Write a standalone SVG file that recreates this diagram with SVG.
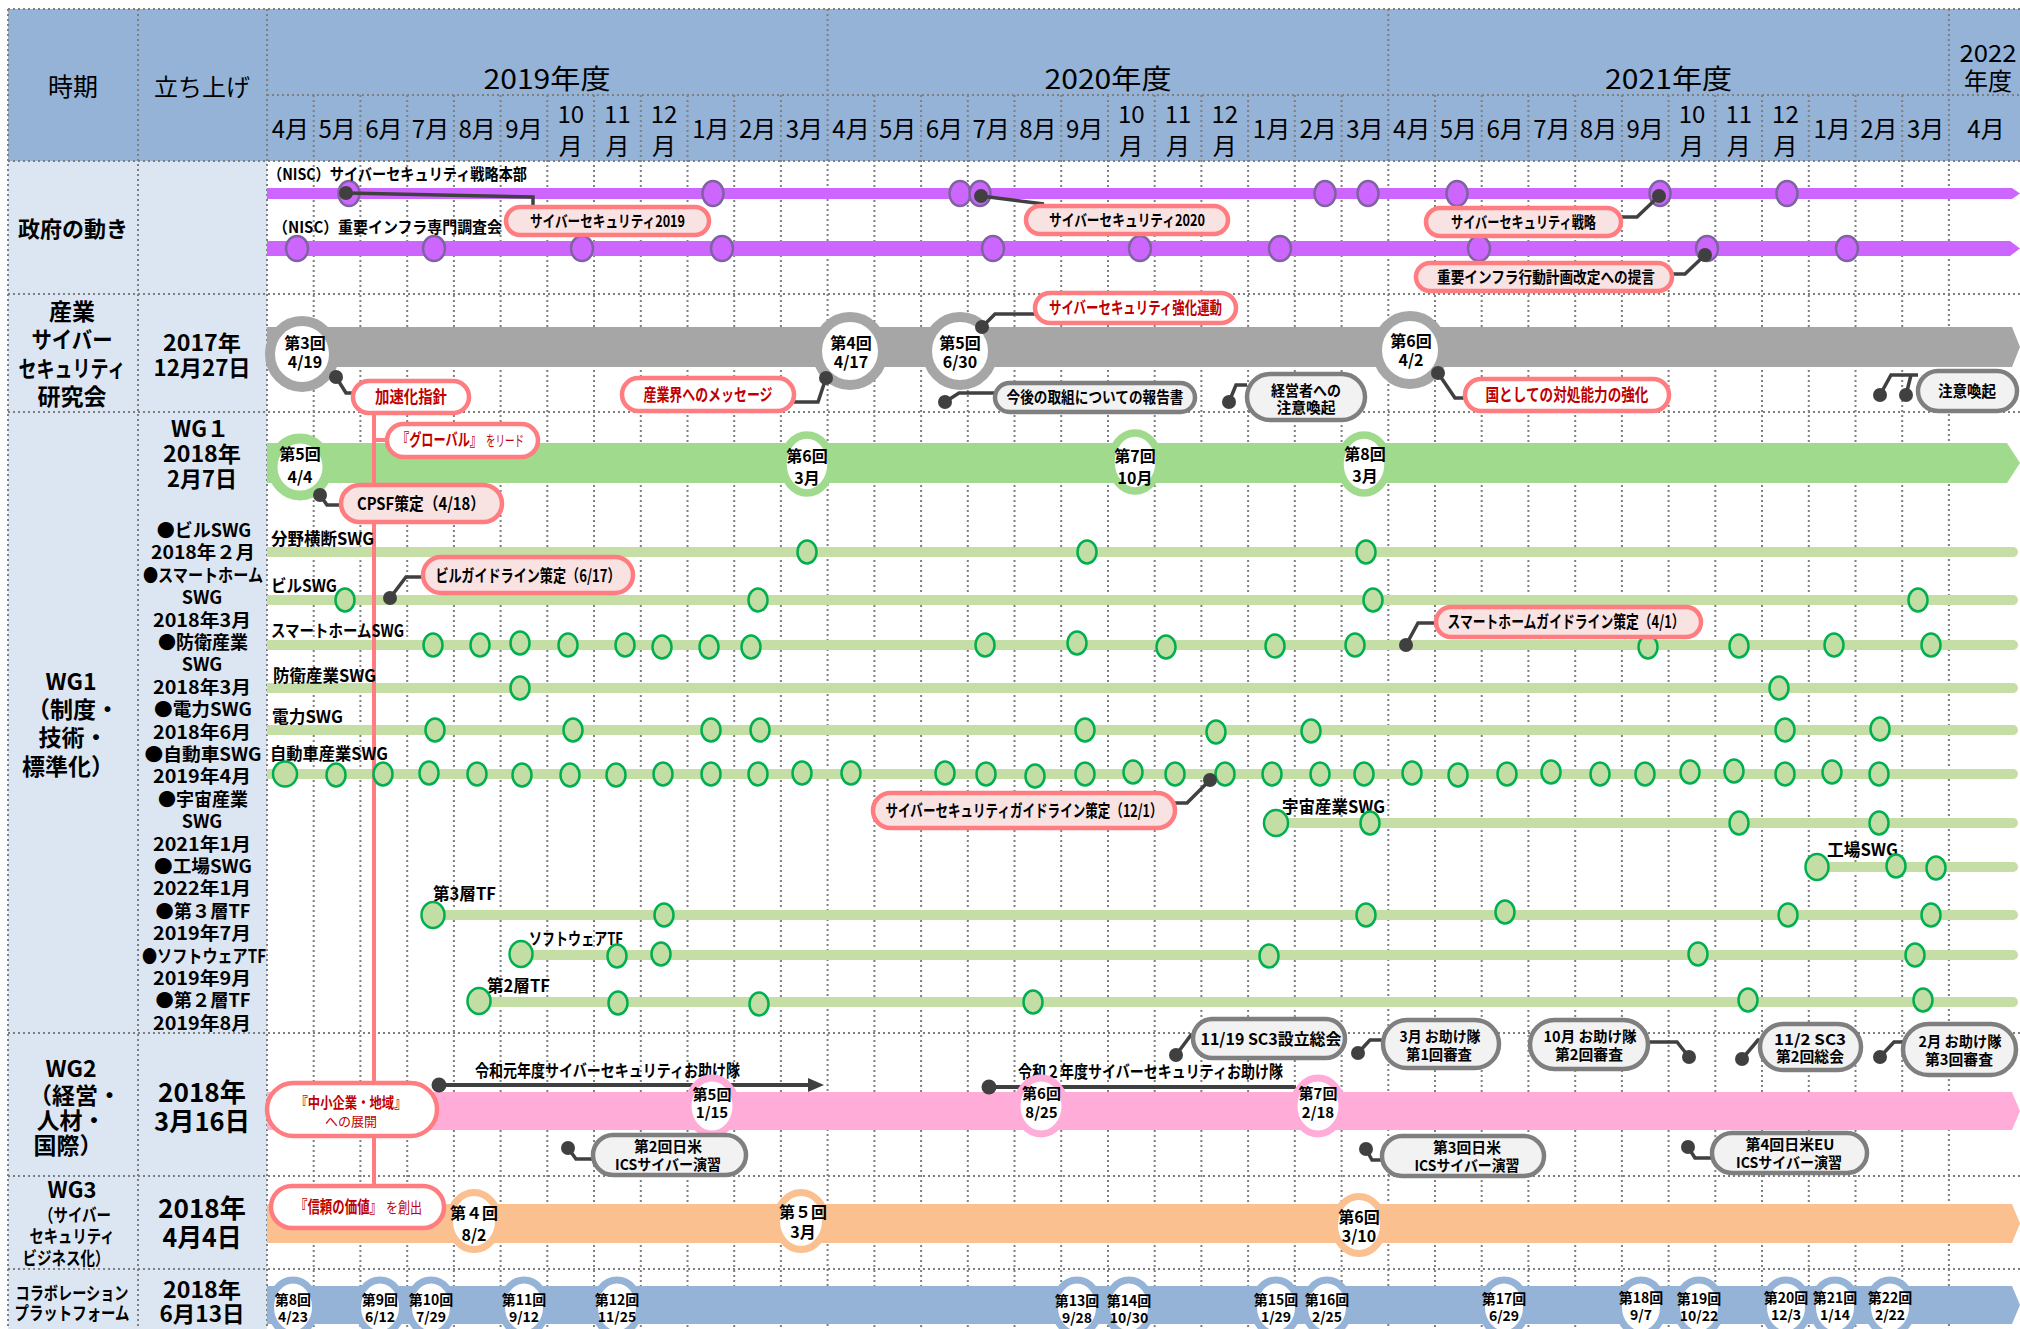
<svg xmlns="http://www.w3.org/2000/svg" width="2020" height="1329" viewBox="0 0 2020 1329">
<defs><style>
text{font-family:"Noto Sans CJK JP","Noto Sans CJK SC",sans-serif;fill:#000}
.b{font-weight:700}
.m{text-anchor:middle}
.hy{font-size:27px;text-anchor:middle}
.hm{font-size:24px;text-anchor:middle}
.lab{font-size:22px;font-weight:700;text-anchor:middle}
.lst{font-size:18px;font-weight:700;text-anchor:middle}
.cl{font-size:16px;font-weight:700;text-anchor:middle}
.c2{font-size:15px;font-weight:700;text-anchor:middle}
.sw{font-size:17px;font-weight:700}
.rt{font-size:16px;font-weight:700;text-anchor:middle}
.rs{font-size:14px;font-weight:700;text-anchor:middle}
.red{fill:#C00000}
.grid{fill:none;stroke:#7F7F7F;stroke-width:2;stroke-dasharray:2 3}
.pd{fill:#CC66FF;stroke:#7F63A1;stroke-width:2.5}
.gd{fill:#C3DEA4;stroke:#00B050;stroke-width:2.5}
.swl{fill:#C4DEA5}
.dot{fill:#404040}
.cn{fill:none;stroke:#404040;stroke-width:3.5}
.cp{fill:#F9E2E2;stroke:#FF7C80;stroke-width:4.5}
.cw{fill:#FFFFFF;stroke:#FF7C80;stroke-width:4.5}
.cg{fill:#F2F2F2;stroke:#7F7F7F;stroke-width:4.5}
.rg{fill:#fff;stroke:#A6A6A6;stroke-width:10}
.rgr{fill:#fff;stroke:#A0DA8D;stroke-width:7.5}
.rp{fill:#fff;stroke:#FFACD9;stroke-width:7}
.ro{fill:#fff;stroke:#FAC090;stroke-width:7}
.rb{fill:#fff;stroke:#95B3D7;stroke-width:7}
</style></defs>

<g id="backgrounds">
<rect x="0" y="0" width="2020" height="1329" fill="#FFFFFF"/>
<rect x="8" y="9" width="2012" height="152" fill="#95B3D7"/>
<rect x="8" y="161" width="259" height="1168" fill="#DCE6F2"/>
</g>

<g id="grid">
<path class="grid" d="M8,9V1329M138,9V1329M267,9V1329M827.6,9V1329M1388.3,9V1329M1948.9,9V1329
M313.7,95V1329M360.4,95V1329M407.2,95V1329M453.9,95V1329M500.6,95V1329M547.3,95V1329M594,95V1329M640.8,95V1329M687.5,95V1329M734.2,95V1329M780.9,95V1329
M874.4,95V1329M921.1,95V1329M967.8,95V1329M1014.5,95V1329M1061.2,95V1329M1108,95V1329M1154.7,95V1329M1201.4,95V1329M1248.1,95V1329M1294.8,95V1329M1341.6,95V1329
M1435,95V1329M1481.7,95V1329M1528.4,95V1329M1575.2,95V1329M1621.9,95V1329M1668.6,95V1329M1715.3,95V1329M1762,95V1329M1808.8,95V1329M1855.5,95V1329M1902.2,95V1329
M8,9H2020M267,95H2020M8,161H2020M8,294H2020M8,412H2020M8,1033H2020M8,1176H2020M8,1269H2020"/>
</g>

<g id="header">
<text x="73" y="96" class="hm" style="font-size:25px">時期</text>
<text x="202" y="96" class="hm">立ち上げ</text>
<text x="547" y="89" class="hy" textLength="127" lengthAdjust="spacingAndGlyphs">2019年度</text>
<text x="1108" y="89" class="hy" textLength="127" lengthAdjust="spacingAndGlyphs">2020年度</text>
<text x="1668.6" y="89" class="hy" textLength="127" lengthAdjust="spacingAndGlyphs">2021年度</text>
<text x="1988" y="62" class="hm" textLength="57" lengthAdjust="spacingAndGlyphs">2022</text>
<text x="1988" y="90" class="hm">年度</text>
<text x="290.4" y="138" class="hm">4月</text>
<text x="337.1" y="138" class="hm">5月</text>
<text x="383.8" y="138" class="hm">6月</text>
<text x="430.5" y="138" class="hm">7月</text>
<text x="477.2" y="138" class="hm">8月</text>
<text x="524" y="138" class="hm">9月</text>
<text x="570.7" y="123" class="hm">10</text><text x="570.7" y="155" class="hm">月</text>
<text x="617.4" y="123" class="hm">11</text><text x="617.4" y="155" class="hm">月</text>
<text x="664.1" y="123" class="hm">12</text><text x="664.1" y="155" class="hm">月</text>
<text x="710.8" y="138" class="hm">1月</text>
<text x="757.6" y="138" class="hm">2月</text>
<text x="804.3" y="138" class="hm">3月</text>
<text x="851" y="138" class="hm">4月</text>
<text x="897.7" y="138" class="hm">5月</text>
<text x="944.4" y="138" class="hm">6月</text>
<text x="991.2" y="138" class="hm">7月</text>
<text x="1037.9" y="138" class="hm">8月</text>
<text x="1084.6" y="138" class="hm">9月</text>
<text x="1131.3" y="123" class="hm">10</text><text x="1131.3" y="155" class="hm">月</text>
<text x="1178" y="123" class="hm">11</text><text x="1178" y="155" class="hm">月</text>
<text x="1224.8" y="123" class="hm">12</text><text x="1224.8" y="155" class="hm">月</text>
<text x="1271.5" y="138" class="hm">1月</text>
<text x="1318.2" y="138" class="hm">2月</text>
<text x="1364.9" y="138" class="hm">3月</text>
<text x="1411.6" y="138" class="hm">4月</text>
<text x="1458.4" y="138" class="hm">5月</text>
<text x="1505.1" y="138" class="hm">6月</text>
<text x="1551.8" y="138" class="hm">7月</text>
<text x="1598.5" y="138" class="hm">8月</text>
<text x="1645.2" y="138" class="hm">9月</text>
<text x="1692" y="123" class="hm">10</text><text x="1692" y="155" class="hm">月</text>
<text x="1738.7" y="123" class="hm">11</text><text x="1738.7" y="155" class="hm">月</text>
<text x="1785.4" y="123" class="hm">12</text><text x="1785.4" y="155" class="hm">月</text>
<text x="1832.1" y="138" class="hm">1月</text>
<text x="1878.8" y="138" class="hm">2月</text>
<text x="1925.6" y="138" class="hm">3月</text>
<text x="1986" y="138" class="hm">4月</text>
</g>

<g id="row-labels">
<text x="73" y="237" class="lab" textLength="110" lengthAdjust="spacingAndGlyphs">政府の動き</text>
<text x="72" y="320" class="lab" style="font-size:23px">産業</text>
<text x="72" y="348" class="lab" style="font-size:23px" textLength="81" lengthAdjust="spacingAndGlyphs">サイバー</text>
<text x="72" y="377" class="lab" style="font-size:23px" textLength="107" lengthAdjust="spacingAndGlyphs">セキュリティ</text>
<text x="72" y="405" class="lab" style="font-size:23px">研究会</text>
<text x="202" y="351" class="lab" textLength="78" lengthAdjust="spacingAndGlyphs">2017年</text>
<text x="202" y="376" class="lab" textLength="97" lengthAdjust="spacingAndGlyphs">12月27日</text>

<text x="71" y="690" class="lab" style="font-size:23px">WG1</text>
<text x="73" y="718" class="lab" style="font-size:23px">（制度・</text>
<text x="73" y="746" class="lab" style="font-size:23px">技術・</text>
<text x="68" y="775" class="lab" style="font-size:23px">標準化）</text>
<text x="200" y="437" class="lab">WG１</text>
<text x="202" y="462" class="lab" textLength="78" lengthAdjust="spacingAndGlyphs">2018年</text>
<text x="202" y="487" class="lab" textLength="70" lengthAdjust="spacingAndGlyphs">2月7日</text>
<text x="204" y="537" class="lst">●ビルSWG</text>
<text x="203" y="559" class="lst" textLength="104" lengthAdjust="spacingAndGlyphs">2018年２月</text>
<text x="203" y="582" class="lst" textLength="120" lengthAdjust="spacingAndGlyphs">●スマートホーム</text>
<text x="202" y="604" class="lst">SWG</text>
<text x="202" y="627" class="lst" textLength="98" lengthAdjust="spacingAndGlyphs">2018年3月</text>
<text x="203" y="649" class="lst" textLength="90" lengthAdjust="spacingAndGlyphs">●防衛産業</text>
<text x="202" y="671" class="lst">SWG</text>
<text x="202" y="694" class="lst" textLength="98" lengthAdjust="spacingAndGlyphs">2018年3月</text>
<text x="203" y="716" class="lst" textLength="98" lengthAdjust="spacingAndGlyphs">●電力SWG</text>
<text x="202" y="739" class="lst" textLength="98" lengthAdjust="spacingAndGlyphs">2018年6月</text>
<text x="203" y="761" class="lst" textLength="117" lengthAdjust="spacingAndGlyphs">●自動車SWG</text>
<text x="202" y="783" class="lst" textLength="98" lengthAdjust="spacingAndGlyphs">2019年4月</text>
<text x="203" y="806" class="lst" textLength="90" lengthAdjust="spacingAndGlyphs">●宇宙産業</text>
<text x="202" y="828" class="lst">SWG</text>
<text x="202" y="851" class="lst" textLength="98" lengthAdjust="spacingAndGlyphs">2021年1月</text>
<text x="203" y="873" class="lst" textLength="98" lengthAdjust="spacingAndGlyphs">●工場SWG</text>
<text x="202" y="895" class="lst" textLength="98" lengthAdjust="spacingAndGlyphs">2022年1月</text>
<text x="203" y="918" class="lst" textLength="95" lengthAdjust="spacingAndGlyphs">●第３層TF</text>
<text x="202" y="940" class="lst" textLength="98" lengthAdjust="spacingAndGlyphs">2019年7月</text>
<text x="204" y="963" class="lst" textLength="124" lengthAdjust="spacingAndGlyphs">●ソフトウェアTF</text>
<text x="202" y="985" class="lst" textLength="98" lengthAdjust="spacingAndGlyphs">2019年9月</text>
<text x="203" y="1007" class="lst" textLength="95" lengthAdjust="spacingAndGlyphs">●第２層TF</text>
<text x="202" y="1030" class="lst" textLength="98" lengthAdjust="spacingAndGlyphs">2019年8月</text>

<text x="71" y="1077" class="lab" style="font-size:23px">WG2</text>
<text x="75" y="1104" class="lab" style="font-size:23px">（経営・</text>
<text x="71" y="1129" class="lab" style="font-size:23px">人材・</text>
<text x="68" y="1154" class="lab" style="font-size:23px">国際）</text>
<text x="202" y="1102" class="lab" style="font-size:26px" textLength="88" lengthAdjust="spacingAndGlyphs">2018年</text>
<text x="202" y="1131" class="lab" style="font-size:26px" textLength="96" lengthAdjust="spacingAndGlyphs">3月16日</text>

<text x="72" y="1198" class="lab">WG3</text>
<text x="75" y="1222" class="lab" style="font-size:18px" textLength="72" lengthAdjust="spacingAndGlyphs">（サイバー</text>
<text x="72" y="1243" class="lab" style="font-size:18px" textLength="85" lengthAdjust="spacingAndGlyphs">セキュリティ</text>
<text x="66" y="1265" class="lab" style="font-size:18px" textLength="87" lengthAdjust="spacingAndGlyphs">ビジネス化）</text>
<text x="202" y="1218" class="lab" style="font-size:26px" textLength="88" lengthAdjust="spacingAndGlyphs">2018年</text>
<text x="202" y="1247" class="lab" style="font-size:26px" textLength="79" lengthAdjust="spacingAndGlyphs">4月4日</text>

<text x="72" y="1300" class="lab" style="font-size:18px" textLength="113" lengthAdjust="spacingAndGlyphs">コラボレーション</text>
<text x="72" y="1320" class="lab" style="font-size:18px" textLength="115" lengthAdjust="spacingAndGlyphs">プラットフォーム</text>
<text x="202" y="1298" class="lab" textLength="78" lengthAdjust="spacingAndGlyphs">2018年</text>
<text x="202" y="1322" class="lab" textLength="85" lengthAdjust="spacingAndGlyphs">6月13日</text>
</g>

<g id="bands">
<path d="M267,188H2012L2020,193.5L2012,199H267Z" fill="#CC66FF"/>
<path d="M267,241H2010L2020,248.5L2010,256H267Z" fill="#CC66FF"/>
<path d="M267,327H2012L2020,347L2012,367H267Z" fill="#A6A6A6"/>
<path d="M267,443H2007L2020,463L2007,483H267Z" fill="#A0DA8D"/>
<path class="swl" d="M267,547H2013A5,5 0 0 1 2013,557H267Z"/>
<path class="swl" d="M267,595H2013A5,5 0 0 1 2013,605H267Z"/>
<path class="swl" d="M267,640H2013A5,5 0 0 1 2013,650H267Z"/>
<path class="swl" d="M267,683H2013A5,5 0 0 1 2013,693H267Z"/>
<path class="swl" d="M267,725H2013A5,5 0 0 1 2013,735H267Z"/>
<path class="swl" d="M267,769H2013A5,5 0 0 1 2013,779H267Z"/>
<path class="swl" d="M1276,818H2013A5,5 0 0 1 2013,828H1276Z"/>
<path class="swl" d="M1817,862H2013A5,5 0 0 1 2013,872H1817Z"/>
<path class="swl" d="M433,910H2013A5,5 0 0 1 2013,920H433Z"/>
<path class="swl" d="M521,950H2013A5,5 0 0 1 2013,960H521Z"/>
<path class="swl" d="M479,997H2013A5,5 0 0 1 2013,1007H479Z"/>
<path d="M267,1092H2012L2020,1111L2012,1130H267Z" fill="#FFACD9"/>
<path d="M267,1204H2012L2020,1223.5L2012,1243H267Z" fill="#FAC090"/>
<path d="M267,1286H2012L2020,1305L2012,1324H267Z" fill="#95B3D7"/>
<path d="M374,413V1186" stroke="#FF7C80" stroke-width="4" fill="none"/>
<path d="M374,440H387" stroke="#FF7C80" stroke-width="4" fill="none"/>
</g>

<g id="gov-meetings">
<ellipse class="pd" cx="349" cy="193.5" rx="10.5" ry="12.5"/>
<ellipse class="pd" cx="713" cy="193.5" rx="10.5" ry="12.5"/>
<ellipse class="pd" cx="960" cy="193.5" rx="10.5" ry="12.5"/>
<ellipse class="pd" cx="980" cy="193.5" rx="10.5" ry="12.5"/>
<ellipse class="pd" cx="1325" cy="193.5" rx="10.5" ry="12.5"/>
<ellipse class="pd" cx="1368" cy="193.5" rx="10.5" ry="12.5"/>
<ellipse class="pd" cx="1457" cy="193.5" rx="10.5" ry="12.5"/>
<ellipse class="pd" cx="1660" cy="193.5" rx="10.5" ry="12.5"/>
<ellipse class="pd" cx="1787" cy="193.5" rx="10.5" ry="12.5"/>
<ellipse class="pd" cx="297" cy="248.5" rx="11" ry="12.5"/>
<ellipse class="pd" cx="434" cy="248.5" rx="11" ry="12.5"/>
<ellipse class="pd" cx="582" cy="248.5" rx="11" ry="12.5"/>
<ellipse class="pd" cx="722" cy="248.5" rx="11" ry="12.5"/>
<ellipse class="pd" cx="993" cy="248.5" rx="11" ry="12.5"/>
<ellipse class="pd" cx="1140" cy="248.5" rx="11" ry="12.5"/>
<ellipse class="pd" cx="1280" cy="248.5" rx="11" ry="12.5"/>
<ellipse class="pd" cx="1479" cy="248.5" rx="11" ry="12.5"/>
<ellipse class="pd" cx="1707" cy="248.5" rx="11" ry="12.5"/>
<ellipse class="pd" cx="1847" cy="248.5" rx="11" ry="12.5"/>
<text x="268" y="180" class="sw" style="font-size:16px" textLength="259" lengthAdjust="spacingAndGlyphs">（NISC）サイバーセキュリティ戦略本部</text>
<text x="273" y="233" class="sw" style="font-size:16px" textLength="229" lengthAdjust="spacingAndGlyphs">（NISC）重要インフラ専門調査会</text>
</g>

<g id="industry-meetings">
<ellipse class="rg" cx="302" cy="354" rx="32" ry="33"/>
<text x="305" y="349" class="rt">第3回</text><text x="305" y="368" class="rt">4/19</text>
<ellipse class="rg" cx="850" cy="351" rx="33" ry="34"/>
<text x="851" y="349" class="rt">第4回</text><text x="851" y="368" class="rt">4/17</text>
<ellipse class="rg" cx="960" cy="351" rx="33" ry="34"/>
<text x="960" y="349" class="rt">第5回</text><text x="960" y="368" class="rt">6/30</text>
<ellipse class="rg" cx="1410" cy="350" rx="33" ry="34"/>
<text x="1411" y="347" class="rt">第6回</text><text x="1411" y="366" class="rt">4/2</text>
</g>

<g id="wg1-meetings">
<ellipse cx="300" cy="467" rx="27.5" ry="28.5" fill="#fff" stroke="#A0DA8D" stroke-width="10"/>
<text x="300" y="460" class="rt">第5回</text><text x="300" y="483" class="rt">4/4</text>
<ellipse class="rgr" cx="807" cy="464" rx="24" ry="29"/>
<text x="807" y="462" class="rt">第6回</text><text x="807" y="484" class="rt">3月</text>
<ellipse class="rgr" cx="1135" cy="462" rx="24" ry="29"/>
<text x="1135" y="462" class="rt">第7回</text><text x="1135" y="484" class="rt">10月</text>
<ellipse class="rgr" cx="1364" cy="464" rx="24" ry="29"/>
<text x="1365" y="460" class="rt">第8回</text><text x="1365" y="482" class="rt">3月</text>
</g>

<g id="swg-labels">
<text x="271" y="545" class="sw" textLength="103" lengthAdjust="spacingAndGlyphs">分野横断SWG</text>
<text x="271" y="592" class="sw" textLength="66" lengthAdjust="spacingAndGlyphs">ビルSWG</text>
<text x="271" y="637" class="sw" textLength="133" lengthAdjust="spacingAndGlyphs">スマートホームSWG</text>
<text x="273" y="682" class="sw" textLength="103" lengthAdjust="spacingAndGlyphs">防衛産業SWG</text>
<text x="272" y="723" class="sw" textLength="71" lengthAdjust="spacingAndGlyphs">電力SWG</text>
<text x="270" y="760" class="sw" textLength="118" lengthAdjust="spacingAndGlyphs">自動車産業SWG</text>
<text x="1282" y="813" class="sw" textLength="103" lengthAdjust="spacingAndGlyphs">宇宙産業SWG</text>
<text x="1827" y="856" class="sw" textLength="71" lengthAdjust="spacingAndGlyphs">工場SWG</text>
<text x="433" y="900" class="sw" textLength="63" lengthAdjust="spacingAndGlyphs">第3層TF</text>
<text x="529" y="945" class="sw" textLength="94" lengthAdjust="spacingAndGlyphs">ソフトウェアTF</text>
<text x="487" y="992" class="sw" textLength="63" lengthAdjust="spacingAndGlyphs">第2層TF</text>
</g>

<g id="swg-meetings">
<ellipse class="gd" cx="807" cy="552" rx="9.5" ry="11.5"/><ellipse class="gd" cx="1087" cy="552" rx="9.5" ry="11.5"/><ellipse class="gd" cx="1366" cy="552" rx="9.5" ry="11.5"/>
<ellipse class="gd" cx="345" cy="600" rx="9.5" ry="11.5"/><ellipse class="gd" cx="758" cy="600" rx="9.5" ry="11.5"/><ellipse class="gd" cx="1373" cy="600" rx="9.5" ry="11.5"/><ellipse class="gd" cx="1918" cy="600" rx="9.5" ry="11.5"/>
<ellipse class="gd" cx="433" cy="645" rx="9.5" ry="11.5"/><ellipse class="gd" cx="480" cy="645" rx="9.5" ry="11.5"/><ellipse class="gd" cx="520" cy="643" rx="9.5" ry="11.5"/><ellipse class="gd" cx="568" cy="645" rx="9.5" ry="11.5"/><ellipse class="gd" cx="625" cy="645" rx="9.5" ry="11.5"/><ellipse class="gd" cx="662" cy="647" rx="9.5" ry="11.5"/><ellipse class="gd" cx="709" cy="647" rx="9.5" ry="11.5"/><ellipse class="gd" cx="751" cy="647" rx="9.5" ry="11.5"/><ellipse class="gd" cx="985" cy="645" rx="9.5" ry="11.5"/><ellipse class="gd" cx="1077" cy="643" rx="9.5" ry="11.5"/><ellipse class="gd" cx="1166" cy="647" rx="9.5" ry="11.5"/><ellipse class="gd" cx="1275" cy="646" rx="9.5" ry="11.5"/><ellipse class="gd" cx="1355" cy="645" rx="9.5" ry="11.5"/><ellipse class="gd" cx="1648" cy="647" rx="9.5" ry="11.5"/><ellipse class="gd" cx="1739" cy="646" rx="9.5" ry="11.5"/><ellipse class="gd" cx="1834" cy="645" rx="9.5" ry="11.5"/><ellipse class="gd" cx="1931" cy="645" rx="9.5" ry="11.5"/>
<ellipse class="gd" cx="520" cy="688" rx="9.5" ry="11.5"/><ellipse class="gd" cx="1779" cy="688" rx="9.5" ry="11.5"/>
<ellipse class="gd" cx="435" cy="730" rx="9.5" ry="11.5"/><ellipse class="gd" cx="573" cy="730" rx="9.5" ry="11.5"/><ellipse class="gd" cx="711" cy="730" rx="9.5" ry="11.5"/><ellipse class="gd" cx="760" cy="730" rx="9.5" ry="11.5"/><ellipse class="gd" cx="1085" cy="730" rx="9.5" ry="11.5"/><ellipse class="gd" cx="1216" cy="732" rx="9.5" ry="11.5"/><ellipse class="gd" cx="1311" cy="731" rx="9.5" ry="11.5"/><ellipse class="gd" cx="1785" cy="730" rx="9.5" ry="11.5"/><ellipse class="gd" cx="1880" cy="729" rx="9.5" ry="11.5"/>
<ellipse class="gd" cx="285" cy="774" rx="12" ry="12.5"/>
<ellipse class="gd" cx="336" cy="775" rx="9.5" ry="11.5"/><ellipse class="gd" cx="383" cy="774" rx="9.5" ry="11.5"/><ellipse class="gd" cx="429" cy="773" rx="9.5" ry="11.5"/><ellipse class="gd" cx="477" cy="774" rx="9.5" ry="11.5"/><ellipse class="gd" cx="522" cy="775" rx="9.5" ry="11.5"/><ellipse class="gd" cx="570" cy="775" rx="9.5" ry="11.5"/><ellipse class="gd" cx="616" cy="775" rx="9.5" ry="11.5"/><ellipse class="gd" cx="663" cy="774" rx="9.5" ry="11.5"/><ellipse class="gd" cx="711" cy="774" rx="9.5" ry="11.5"/><ellipse class="gd" cx="758" cy="774" rx="9.5" ry="11.5"/><ellipse class="gd" cx="802" cy="773" rx="9.5" ry="11.5"/><ellipse class="gd" cx="851" cy="773" rx="9.5" ry="11.5"/><ellipse class="gd" cx="945" cy="773" rx="9.5" ry="11.5"/><ellipse class="gd" cx="986" cy="774" rx="9.5" ry="11.5"/><ellipse class="gd" cx="1035" cy="776" rx="9.5" ry="11.5"/><ellipse class="gd" cx="1085" cy="774" rx="9.5" ry="11.5"/><ellipse class="gd" cx="1133" cy="772" rx="9.5" ry="11.5"/><ellipse class="gd" cx="1175" cy="774" rx="9.5" ry="11.5"/><ellipse class="gd" cx="1225" cy="774" rx="9.5" ry="11.5"/><ellipse class="gd" cx="1272" cy="774" rx="9.5" ry="11.5"/><ellipse class="gd" cx="1320" cy="774" rx="9.5" ry="11.5"/><ellipse class="gd" cx="1364" cy="774" rx="9.5" ry="11.5"/><ellipse class="gd" cx="1412" cy="773" rx="9.5" ry="11.5"/><ellipse class="gd" cx="1458" cy="775" rx="9.5" ry="11.5"/><ellipse class="gd" cx="1507" cy="774" rx="9.5" ry="11.5"/><ellipse class="gd" cx="1551" cy="772" rx="9.5" ry="11.5"/><ellipse class="gd" cx="1600" cy="774" rx="9.5" ry="11.5"/><ellipse class="gd" cx="1645" cy="774" rx="9.5" ry="11.5"/><ellipse class="gd" cx="1690" cy="772" rx="9.5" ry="11.5"/><ellipse class="gd" cx="1734" cy="771" rx="9.5" ry="11.5"/><ellipse class="gd" cx="1785" cy="774" rx="9.5" ry="11.5"/><ellipse class="gd" cx="1832" cy="772" rx="9.5" ry="11.5"/><ellipse class="gd" cx="1879" cy="774" rx="9.5" ry="11.5"/>
<ellipse class="gd" cx="1276" cy="823" rx="12" ry="13"/><ellipse class="gd" cx="1370" cy="823" rx="9.5" ry="11.5"/><ellipse class="gd" cx="1739" cy="823" rx="9.5" ry="11.5"/><ellipse class="gd" cx="1879" cy="823" rx="9.5" ry="11.5"/>
<ellipse class="gd" cx="1817" cy="867" rx="11.5" ry="13"/><ellipse class="gd" cx="1896" cy="866" rx="9.5" ry="11.5"/><ellipse class="gd" cx="1936" cy="868" rx="9.5" ry="11.5"/>
<ellipse class="gd" cx="433" cy="915" rx="11.5" ry="13"/><ellipse class="gd" cx="664" cy="915" rx="9.5" ry="11.5"/><ellipse class="gd" cx="1366" cy="915" rx="9.5" ry="11.5"/><ellipse class="gd" cx="1505" cy="912" rx="9.5" ry="11.5"/><ellipse class="gd" cx="1788" cy="915" rx="9.5" ry="11.5"/><ellipse class="gd" cx="1931" cy="915" rx="9.5" ry="11.5"/>
<ellipse class="gd" cx="521" cy="954" rx="11.5" ry="13"/><ellipse class="gd" cx="617" cy="956" rx="9.5" ry="11.5"/><ellipse class="gd" cx="661" cy="954" rx="9.5" ry="11.5"/><ellipse class="gd" cx="1269" cy="956" rx="9.5" ry="11.5"/><ellipse class="gd" cx="1698" cy="954" rx="9.5" ry="11.5"/><ellipse class="gd" cx="1915" cy="955" rx="9.5" ry="11.5"/>
<ellipse class="gd" cx="479" cy="1001" rx="11.5" ry="13"/><ellipse class="gd" cx="618" cy="1003" rx="9.5" ry="11.5"/><ellipse class="gd" cx="759" cy="1004" rx="9.5" ry="11.5"/><ellipse class="gd" cx="1033" cy="1002" rx="9.5" ry="11.5"/><ellipse class="gd" cx="1748" cy="1000" rx="9.5" ry="11.5"/><ellipse class="gd" cx="1923" cy="1000" rx="9.5" ry="11.5"/>
</g>

<g id="wg2-timeline">
<path d="M439,1085H812" stroke="#404040" stroke-width="4" fill="none"/>
<path d="M808,1078L824,1085L808,1092Z" fill="#404040"/>
<path d="M989,1087H1296" stroke="#404040" stroke-width="4" fill="none"/>
<circle class="dot" cx="439" cy="1085" r="7.5"/>
<circle class="dot" cx="989" cy="1087" r="7.5"/>
<text x="475" y="1077" class="sw" textLength="265" lengthAdjust="spacingAndGlyphs">令和元年度サイバーセキュリティお助け隊</text>
<text x="1018" y="1078" class="sw" textLength="265" lengthAdjust="spacingAndGlyphs">令和２年度サイバーセキュリティお助け隊</text>
<ellipse class="rp" cx="712" cy="1106" rx="24" ry="28"/>
<text x="712" y="1100" class="c2">第5回</text><text x="712" y="1118" class="c2">1/15</text>
<ellipse class="rp" cx="1041" cy="1106" rx="24" ry="28"/>
<text x="1041.5" y="1099" class="c2">第6回</text><text x="1041.5" y="1118" class="c2">8/25</text>
<ellipse class="rp" cx="1318" cy="1106" rx="24" ry="28"/>
<text x="1318" y="1099" class="c2">第7回</text><text x="1318" y="1118" class="c2">2/18</text>
</g>

<g id="wg3-timeline">
<ellipse class="ro" cx="474" cy="1221" rx="24.5" ry="28.5"/>
<text x="474" y="1219" class="rt">第４回</text><text x="474" y="1241" class="rt">8/2</text>
<ellipse class="ro" cx="801" cy="1221" rx="24.5" ry="28.5"/>
<text x="803" y="1218" class="rt">第５回</text><text x="803" y="1238" class="rt">3月</text>
<ellipse class="ro" cx="1359" cy="1225" rx="24.5" ry="28.5"/>
<text x="1359" y="1223" class="rt">第6回</text><text x="1359" y="1242" class="rt">3/10</text>
</g>

<g id="collab-timeline">
<ellipse class="rb" cx="293" cy="1307" rx="22.5" ry="27"/><text x="293" y="1305" class="rs">第8回</text><text x="293" y="1322" class="rs">4/23</text>
<ellipse class="rb" cx="380" cy="1307" rx="22.5" ry="27"/><text x="380" y="1305" class="rs">第9回</text><text x="380" y="1322" class="rs">6/12</text>
<ellipse class="rb" cx="431" cy="1307" rx="22.5" ry="27"/><text x="431" y="1305" class="rs">第10回</text><text x="431" y="1322" class="rs">7/29</text>
<ellipse class="rb" cx="524" cy="1307" rx="22.5" ry="27"/><text x="524" y="1305" class="rs">第11回</text><text x="524" y="1322" class="rs">9/12</text>
<ellipse class="rb" cx="617" cy="1307" rx="22.5" ry="27"/><text x="617" y="1305" class="rs">第12回</text><text x="617" y="1322" class="rs">11/25</text>
<ellipse class="rb" cx="1077" cy="1307" rx="22.5" ry="27"/><text x="1077" y="1306" class="rs">第13回</text><text x="1077" y="1323" class="rs">9/28</text>
<ellipse class="rb" cx="1129" cy="1307" rx="22.5" ry="27"/><text x="1129" y="1306" class="rs">第14回</text><text x="1129" y="1323" class="rs">10/30</text>
<ellipse class="rb" cx="1276" cy="1307" rx="22.5" ry="27"/><text x="1276" y="1305" class="rs">第15回</text><text x="1276" y="1322" class="rs">1/29</text>
<ellipse class="rb" cx="1327" cy="1307" rx="22.5" ry="27"/><text x="1327" y="1305" class="rs">第16回</text><text x="1327" y="1322" class="rs">2/25</text>
<ellipse class="rb" cx="1504" cy="1307" rx="22.5" ry="27"/><text x="1504" y="1304" class="rs">第17回</text><text x="1504" y="1321" class="rs">6/29</text>
<ellipse class="rb" cx="1641" cy="1307" rx="22.5" ry="27"/><text x="1641" y="1303" class="rs">第18回</text><text x="1641" y="1320" class="rs">9/7</text>
<ellipse class="rb" cx="1699" cy="1307" rx="22.5" ry="27"/><text x="1699" y="1304" class="rs">第19回</text><text x="1699" y="1321" class="rs">10/22</text>
<ellipse class="rb" cx="1786" cy="1307" rx="22.5" ry="27"/><text x="1786" y="1303" class="rs">第20回</text><text x="1786" y="1320" class="rs">12/3</text>
<ellipse class="rb" cx="1835" cy="1307" rx="22.5" ry="27"/><text x="1835" y="1303" class="rs">第21回</text><text x="1835" y="1320" class="rs">1/14</text>
<ellipse class="rb" cx="1890" cy="1307" rx="22.5" ry="27"/><text x="1890" y="1303" class="rs">第22回</text><text x="1890" y="1320" class="rs">2/22</text>
</g>

<g id="connectors">
<path class="cn" d="M346,193L533,197V207"/>
<path class="cn" d="M981,196L1044,204"/>
<path class="cn" d="M1659,196L1637,217H1621"/>
<path class="cn" d="M1705,255L1685,274H1672"/>
<path class="cn" d="M336,377L346,393H353"/>
<path class="cn" d="M826,378L818,402H794"/>
<path class="cn" d="M982,327L995,314H1035"/>
<path class="cn" d="M945,402L959,393H995"/>
<path class="cn" d="M1229,402L1236,385H1247"/>
<path class="cn" d="M1438,373L1455,398H1465"/>
<path class="cn" d="M1880,395L1891,375H1918M1906,395L1911,375"/>
<path class="cn" d="M320,495L327,505H341"/>
<path class="cn" d="M390,598L406,577H423"/>
<path class="cn" d="M1406,645L1418,623H1436"/>
<path class="cn" d="M1210,780L1187,803H1175"/>
<path class="cn" d="M568,1148L576,1159H593"/>
<path class="cn" d="M1176,1055L1191,1035H1195"/>
<path class="cn" d="M1358,1053L1370,1040H1383"/>
<path class="cn" d="M1648,1042H1677L1689,1057"/>
<path class="cn" d="M1742,1059L1758,1040H1762"/>
<path class="cn" d="M1880,1057L1894,1042H1903"/>
<path class="cn" d="M1366,1149L1372,1160H1382"/>
<path class="cn" d="M1688,1147L1695,1158H1712"/>
<circle class="dot" cx="346" cy="193" r="7"/>
<circle class="dot" cx="981" cy="196" r="7"/>
<circle class="dot" cx="1659" cy="196" r="7"/>
<circle class="dot" cx="1705" cy="255" r="7"/>
<circle class="dot" cx="336" cy="377" r="7"/>
<circle class="dot" cx="826" cy="378" r="7"/>
<circle class="dot" cx="982" cy="327" r="7"/>
<circle class="dot" cx="945" cy="402" r="7"/>
<circle class="dot" cx="1229" cy="402" r="7"/>
<circle class="dot" cx="1438" cy="373" r="7"/>
<circle class="dot" cx="1880" cy="395" r="7"/>
<circle class="dot" cx="1906" cy="395" r="7"/>
<circle class="dot" cx="320" cy="495" r="7"/>
<circle class="dot" cx="390" cy="598" r="7"/>
<circle class="dot" cx="1406" cy="645" r="7"/>
<circle class="dot" cx="1210" cy="780" r="7"/>
<circle class="dot" cx="568" cy="1148" r="7"/>
<circle class="dot" cx="1176" cy="1055" r="7"/>
<circle class="dot" cx="1358" cy="1053" r="7"/>
<circle class="dot" cx="1689" cy="1057" r="7"/>
<circle class="dot" cx="1742" cy="1059" r="7"/>
<circle class="dot" cx="1880" cy="1057" r="7"/>
<circle class="dot" cx="1366" cy="1149" r="7"/>
<circle class="dot" cx="1688" cy="1147" r="7"/>
</g>

<g id="callout-cs2019"><rect class="cp" x="506" y="207" width="203" height="28" rx="14"/><text x="607.5" y="227" class="cl" textLength="155" lengthAdjust="spacingAndGlyphs">サイバーセキュリティ2019</text></g>
<g id="callout-cs2020"><rect class="cp" x="1026" y="206" width="202" height="28" rx="14"/><text x="1127" y="226" class="cl" textLength="156" lengthAdjust="spacingAndGlyphs">サイバーセキュリティ2020</text></g>
<g id="callout-strategy"><rect class="cp" x="1426" y="208" width="195" height="28" rx="14"/><text x="1523.5" y="228" class="cl" textLength="145" lengthAdjust="spacingAndGlyphs">サイバーセキュリティ戦略</text></g>
<g id="callout-infra"><rect class="cp" x="1416" y="263" width="256" height="28" rx="14"/><text x="1546" y="283" class="cl" textLength="218" lengthAdjust="spacingAndGlyphs">重要インフラ行動計画改定への提言</text></g>

<g id="callout-kasoku"><rect class="cw" x="353" y="381" width="116" height="32" rx="16"/><text x="411" y="403" class="cl red" style="font-size:17px" textLength="72" lengthAdjust="spacingAndGlyphs">加速化指針</text></g>
<g id="callout-message"><rect class="cw" x="622" y="378" width="172" height="33" rx="16.5"/><text x="708" y="401" class="cl red" style="font-size:17px" textLength="129" lengthAdjust="spacingAndGlyphs">産業界へのメッセージ</text></g>
<g id="callout-kyoka"><rect class="cw" x="1035" y="293" width="201" height="30" rx="15"/><text x="1135.5" y="314" class="cl red" style="font-size:17px" textLength="173" lengthAdjust="spacingAndGlyphs">サイバーセキュリティ強化運動</text></g>
<g id="callout-report"><rect class="cg" x="995" y="383" width="200" height="29" rx="14.5"/><text x="1095" y="403" class="cl" textLength="177" lengthAdjust="spacingAndGlyphs">今後の取組についての報告書</text></g>
<g id="callout-keieisha"><rect class="cg" x="1247" y="374" width="118" height="46" rx="23"/><text x="1306" y="396" class="c2" textLength="70" lengthAdjust="spacingAndGlyphs">経営者への</text><text x="1306" y="413" class="c2" textLength="59" lengthAdjust="spacingAndGlyphs">注意喚起</text></g>
<g id="callout-national"><rect class="cw" x="1465" y="379" width="204" height="32" rx="16"/><text x="1567" y="401" class="cl red" style="font-size:17px" textLength="163" lengthAdjust="spacingAndGlyphs">国としての対処能力の強化</text></g>
<g id="callout-chui"><rect class="cg" x="1918" y="371" width="99" height="40" rx="20"/><text x="1967" y="397" class="cl" textLength="58" lengthAdjust="spacingAndGlyphs">注意喚起</text></g>

<g id="callout-global"><rect class="cw" x="387" y="424" width="151" height="33" rx="16.5"/><text x="397" y="446" class="red b" style="font-size:17px" textLength="85" lengthAdjust="spacingAndGlyphs">『グローバル』</text><text x="486" y="446" class="red" style="font-size:15px" textLength="38" lengthAdjust="spacingAndGlyphs">をリード</text></g>
<g id="callout-cpsf"><rect class="cp" x="341" y="485" width="161" height="37" rx="18.5"/><text x="421" y="510" class="cl" style="font-size:17px" textLength="128" lengthAdjust="spacingAndGlyphs">CPSF策定（4/18）</text></g>
<g id="callout-bldg"><rect class="cp" x="423" y="557" width="210" height="36" rx="18"/><text x="528" y="582" class="cl" style="font-size:17px" textLength="185" lengthAdjust="spacingAndGlyphs">ビルガイドライン策定（6/17）</text></g>
<g id="callout-smarthome"><rect class="cp" x="1436" y="607" width="265" height="30" rx="15"/><text x="1566" y="628" class="cl" style="font-size:17px" textLength="237" lengthAdjust="spacingAndGlyphs">スマートホームガイドライン策定（4/1）</text></g>
<g id="callout-csguide"><rect class="cp" x="873" y="793" width="302" height="35" rx="17.5"/><text x="1024" y="817" class="cl" style="font-size:17px" textLength="277" lengthAdjust="spacingAndGlyphs">サイバーセキュリティガイドライン策定（12/1）</text></g>

<g id="callout-sme"><rect class="cw" x="267" y="1083" width="170" height="53" rx="26.5"/><text x="351" y="1108" class="c2 red" textLength="111" lengthAdjust="spacingAndGlyphs">『中小企業・地域』</text><text x="351" y="1126" class="m red" style="font-size:13px">への展開</text></g>
<g id="callout-jpus2"><rect class="cg" x="593" y="1135" width="153" height="40" rx="20"/><text x="668" y="1152" class="c2" textLength="68" lengthAdjust="spacingAndGlyphs">第2回日米</text><text x="668" y="1170" class="c2" textLength="106" lengthAdjust="spacingAndGlyphs">ICSサイバー演習</text></g>
<g id="callout-sc3"><rect class="cg" x="1193" y="1019" width="152" height="39" rx="19.5"/><text x="1271" y="1045" class="cl" textLength="141" lengthAdjust="spacingAndGlyphs">11/19 SC3設立総会</text></g>
<g id="callout-otasuke1"><rect class="cg" x="1383" y="1020" width="116" height="48" rx="24"/><text x="1440" y="1042" class="c2" textLength="81" lengthAdjust="spacingAndGlyphs">3月 お助け隊</text><text x="1439" y="1060" class="c2" textLength="66" lengthAdjust="spacingAndGlyphs">第1回審査</text></g>
<g id="callout-otasuke2"><rect class="cg" x="1530" y="1020" width="118" height="49" rx="24.5"/><text x="1590" y="1042" class="c2" textLength="93" lengthAdjust="spacingAndGlyphs">10月 お助け隊</text><text x="1589" y="1060" class="c2" textLength="68" lengthAdjust="spacingAndGlyphs">第2回審査</text></g>
<g id="callout-sc3-2"><rect class="cg" x="1760" y="1024" width="101" height="46" rx="23"/><text x="1810" y="1045" class="c2" textLength="72" lengthAdjust="spacingAndGlyphs">11/2 SC3</text><text x="1810" y="1062" class="c2" textLength="68" lengthAdjust="spacingAndGlyphs">第2回総会</text></g>
<g id="callout-otasuke3"><rect class="cg" x="1903" y="1024" width="113" height="51" rx="25.5"/><text x="1960" y="1047" class="c2" textLength="83" lengthAdjust="spacingAndGlyphs">2月 お助け隊</text><text x="1959" y="1065" class="c2" textLength="68" lengthAdjust="spacingAndGlyphs">第3回審査</text></g>
<g id="callout-jpus3"><rect class="cg" x="1382" y="1136" width="162" height="40" rx="20"/><text x="1467" y="1153" class="c2" textLength="68" lengthAdjust="spacingAndGlyphs">第3回日米</text><text x="1467" y="1171" class="c2" textLength="105" lengthAdjust="spacingAndGlyphs">ICSサイバー演習</text></g>
<g id="callout-jpuseu4"><rect class="cg" x="1712" y="1133" width="155" height="40" rx="20"/><text x="1790" y="1150" class="c2" textLength="89" lengthAdjust="spacingAndGlyphs">第4回日米EU</text><text x="1789" y="1168" class="c2" textLength="106" lengthAdjust="spacingAndGlyphs">ICSサイバー演習</text></g>

<g id="callout-trust"><rect class="cw" x="271" y="1186" width="173" height="42" rx="21"/><text x="295" y="1213" class="red b" style="font-size:17px" textLength="87" lengthAdjust="spacingAndGlyphs">『信頼の価値』</text><text x="386" y="1213" class="red" style="font-size:15px" textLength="36" lengthAdjust="spacingAndGlyphs">を創出</text></g>
</svg>
